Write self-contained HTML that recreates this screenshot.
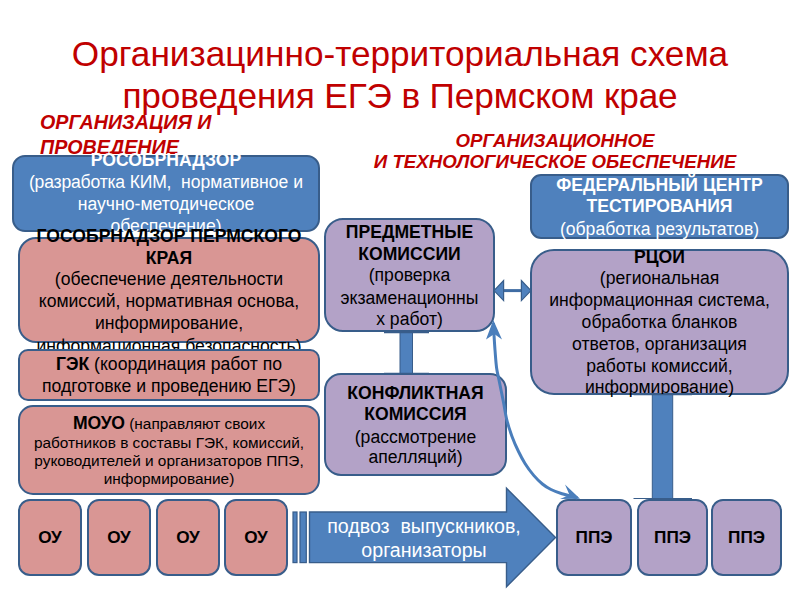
<!DOCTYPE html>
<html>
<head>
<meta charset="utf-8">
<style>
html,body{margin:0;padding:0;background:#fff;}
body{width:800px;height:600px;position:relative;overflow:hidden;font-family:"Liberation Sans",sans-serif;}
.abs{position:absolute;}
.box{position:absolute;box-sizing:border-box;border:2px solid #385D8A;text-align:center;white-space:nowrap;}
.blue{background:#4F81BD;color:#fff;}
.pink{background:#D99694;color:#000;}
.purp{background:#B3A2C7;color:#000;}
.ln{position:absolute;left:0;right:0;text-align:center;white-space:nowrap;}
b{font-weight:bold;}
.title{position:absolute;left:0;width:800px;text-align:center;color:#C00000;font-size:35.2px;line-height:43px;white-space:nowrap;}
.lab{position:absolute;color:#C00000;font-weight:bold;font-style:italic;font-size:16px;white-space:nowrap;}
svg{position:absolute;left:0;top:0;}
</style>
</head>
<body>

<div class="title" style="top:32px;">Организацинно-территориальная схема</div>
<div class="title" style="top:73.5px;letter-spacing:-0.13px;">проведения ЕГЭ в Пермском крае</div>

<div class="lab" style="left:40px;top:110.4px;line-height:24px;font-size:19.7px;">ОРГАНИЗАЦИЯ И</div>
<div class="lab" style="left:40px;top:134.5px;line-height:24px;font-size:19.7px;">ПРОВЕДЕНИЕ</div>
<div class="lab" style="left:355px;width:400px;text-align:center;top:129.5px;line-height:22px;font-size:18.7px;">ОРГАНИЗАЦИОННОЕ</div>
<div class="lab" style="left:355px;width:400px;text-align:center;top:150.5px;line-height:22px;font-size:18.7px;">И ТЕХНОЛОГИЧЕСКОЕ ОБЕСПЕЧЕНИЕ</div>

<!-- blue box 1 -->
<div class="box blue" style="left:12px;top:155px;width:308px;height:77px;border-radius:13px;font-size:17.6px;">
  <div class="ln" style="top:-8px;line-height:22px;"><b>РОСОБРНАДЗОР</b></div>
  <div class="ln" style="top:14px;line-height:22px;"><span style="letter-spacing:-0.2px">(разработка КИМ,</span>&nbsp; нормативное и</div>
  <div class="ln" style="top:36px;line-height:22px;">научно-методическое</div>
  <div class="ln" style="top:58px;line-height:22px;">обеспечение)</div>
</div>

<!-- pink box 2 -->
<div class="box pink" style="left:18px;top:237px;width:302px;height:106px;border-radius:18px;font-size:17.6px;">
  <div class="ln" style="top:-14px;line-height:22px;"><b>ГОСОБРНАДЗОР ПЕРМСКОГО</b></div>
  <div class="ln" style="top:8px;line-height:22px;"><b>КРАЯ</b></div>
  <div class="ln" style="top:29.4px;line-height:22px;">(обеспечение деятельности</div>
  <div class="ln" style="top:51.4px;line-height:22px;">комиссий, нормативная основа,</div>
  <div class="ln" style="top:72.6px;line-height:22px;">информирование,</div>
  <div class="ln" style="top:95.5px;line-height:22px;">информационная безопасность)</div>
</div>

<!-- GEK -->
<div class="box pink" style="left:18px;top:349px;width:302px;height:52px;border-radius:10px;font-size:17.6px;">
  <div class="ln" style="top:1.6px;line-height:22px;"><b>ГЭК</b> (координация работ по</div>
  <div class="ln" style="top:24.2px;line-height:22px;">подготовке и проведению ЕГЭ)</div>
</div>

<!-- MOUO -->
<div class="box pink" style="left:18px;top:405px;width:302px;height:90px;border-radius:15px;font-size:15.4px;">
  <div class="ln" style="top:5px;line-height:22px;"><b style="font-size:17.6px;">МОУО</b> (направляют своих</div>
  <div class="ln" style="top:27.2px;line-height:18px;">работников в составы ГЭК, комиссий,</div>
  <div class="ln" style="top:45.1px;line-height:18px;">руководителей и организаторов ППЭ,</div>
  <div class="ln" style="top:62.7px;line-height:18px;">информирование)</div>
</div>

<!-- OU -->
<div class="box pink" style="left:18px;top:499px;width:64px;height:77px;border-radius:12px;font-size:17.2px;font-weight:bold;line-height:73px;">ОУ</div>
<div class="box pink" style="left:87px;top:499px;width:64px;height:77px;border-radius:12px;font-size:17.2px;font-weight:bold;line-height:73px;">ОУ</div>
<div class="box pink" style="left:156px;top:499px;width:64px;height:77px;border-radius:12px;font-size:17.2px;font-weight:bold;line-height:73px;">ОУ</div>
<div class="box pink" style="left:224px;top:499px;width:64px;height:77px;border-radius:12px;font-size:17.2px;font-weight:bold;line-height:73px;">ОУ</div>

<!-- PREDMETNYE -->
<div class="box purp" style="left:324px;top:218px;width:171px;height:114px;border-radius:19px;font-size:17.6px;">
  <div class="ln" style="top:1px;line-height:22px;"><b>ПРЕДМЕТНЫЕ</b></div>
  <div class="ln" style="top:23px;line-height:22px;"><b>КОМИССИИ</b></div>
  <div class="ln" style="top:44px;line-height:22px;">(проверка</div>
  <div class="ln" style="top:67px;line-height:22px;">экзаменационны</div>
  <div class="ln" style="top:88px;line-height:22px;">х работ)</div>
</div>

<!-- KONFLIKTNAYA -->
<div class="box purp" style="left:324px;top:373px;width:183px;height:103px;border-radius:17px;font-size:17.6px;">
  <div class="ln" style="top:7px;line-height:22px;"><b>КОНФЛИКТНАЯ</b></div>
  <div class="ln" style="top:28px;line-height:22px;"><b>КОМИССИЯ</b></div>
  <div class="ln" style="top:50.6px;line-height:22px;">(рассмотрение</div>
  <div class="ln" style="top:71px;line-height:22px;">апелляций)</div>
</div>

<!-- FEDERAL -->
<div class="box blue" style="left:530px;top:174px;width:259px;height:65px;border-radius:11px;font-size:17.6px;">
  <div class="ln" style="top:-2.2px;line-height:22px;"><b>ФЕДЕРАЛЬНЫЙ ЦЕНТР</b></div>
  <div class="ln" style="top:19.2px;line-height:22px;"><b>ТЕСТИРОВАНИЯ</b></div>
  <div class="ln" style="top:41.8px;line-height:22px;">(обработка результатов)</div>
</div>

<!-- RCOI -->
<div class="box purp" style="left:530px;top:249px;width:259px;height:146px;border-radius:24px;font-size:17.6px;">
  <div class="ln" style="top:-5px;line-height:22px;"><b>РЦОИ</b></div>
  <div class="ln" style="top:16px;line-height:22px;">(региональная</div>
  <div class="ln" style="top:37.8px;line-height:22px;">информационная система,</div>
  <div class="ln" style="top:59.8px;line-height:22px;">обработка бланков</div>
  <div class="ln" style="top:81.5px;line-height:22px;">ответов, организация</div>
  <div class="ln" style="top:103.5px;line-height:22px;">работы комиссий,</div>
  <div class="ln" style="top:124.8px;line-height:22px;">информирование)</div>
</div>

<svg width="800" height="600" viewBox="0 0 800 600">
  <!-- big striped arrow -->
  <rect x="293" y="512" width="4" height="50.6" fill="#4F81BD" stroke="#385D8A" stroke-width="1.2"/>
  <rect x="300" y="512" width="6.3" height="50.6" fill="#4F81BD" stroke="#385D8A" stroke-width="1.2"/>
  <polygon points="309.5,512 506.5,512 506.5,488.2 555.5,537.5 506.5,586.8 506.5,562.6 309.5,562.6" fill="#4F81BD" stroke="#385D8A" stroke-width="1.4"/>
</svg>
<!-- PPE -->
<div class="box purp" style="left:556px;top:499px;width:76px;height:77px;border-radius:12px;font-size:17.2px;font-weight:bold;line-height:73px;">ППЭ</div>
<div class="box purp" style="left:637px;top:499px;width:71px;height:77px;border-radius:12px;font-size:17.2px;font-weight:bold;line-height:73px;">ППЭ</div>
<div class="box purp" style="left:711px;top:499px;width:71px;height:77px;border-radius:12px;font-size:17.2px;font-weight:bold;line-height:73px;">ППЭ</div>

<svg width="800" height="600" viewBox="0 0 800 600">
  <!-- connector predmetnye-konfliktnaya -->
  <rect x="400" y="332" width="12.5" height="42" fill="#4F81BD" stroke="#385D8A" stroke-width="1"/>
  <line x1="384" y1="332.6" x2="429" y2="332.6" stroke="#385D8A" stroke-width="1.2"/>
  <line x1="384" y1="373.4" x2="429" y2="373.4" stroke="#385D8A" stroke-width="1.2"/>
  <!-- connector RCOI-PPE -->
  <rect x="652.3" y="394.5" width="20.4" height="104" fill="#4F81BD" stroke="#385D8A" stroke-width="1"/>
  <line x1="633.5" y1="394.6" x2="692" y2="394.6" stroke="#385D8A" stroke-width="1.2"/>
  <line x1="633.5" y1="498.5" x2="692" y2="498.5" stroke="#385D8A" stroke-width="1.2"/>
  <!-- double arrow -->
  <line x1="500" y1="290.6" x2="526" y2="290.6" stroke="#3F6CA3" stroke-width="3"/>
  <polygon points="494,290.6 503.6,280.6 503.6,300.6" fill="#4F81BD" stroke="#385D8A" stroke-width="1.2"/>
  <polygon points="531,290.6 521.4,280.6 521.4,300.6" fill="#4F81BD" stroke="#385D8A" stroke-width="1.2"/>
  <!-- curved arrow -->
  <path d="M493.4,323.0 C493.4,324.2 493.4,325.5 493.7,330.0 C494.0,334.5 494.5,343.7 495.0,350.0 C495.5,356.3 495.9,363.0 496.6,368.0 C497.3,373.0 497.9,374.4 499.0,380.0 C500.1,385.6 502.1,395.2 503.4,401.7 C504.7,408.2 505.2,413.2 506.6,419.0 C508.0,424.8 510.0,431.0 512.0,436.4 C514.0,441.8 516.3,447.0 518.5,451.5 C520.7,456.0 522.5,459.5 525.0,463.5 C527.5,467.5 530.8,472.0 533.7,475.4 C536.6,478.8 539.5,481.6 542.4,484.0 C545.3,486.4 547.7,487.9 551.0,489.5 C554.3,491.1 557.6,492.4 562.0,493.8 C566.4,495.2 574.9,497.3 577.5,498.0" fill="none" stroke="#4A7EBB" stroke-width="3"/>
  <path d="M486,339.5 L493.3,320 L502,339.5 L494.3,334 Z" fill="#4A7EBB"/>
  <path d="M565,484.5 L580,498.7 L560,499 L569.5,495 Z" fill="#4A7EBB"/>
</svg>

<div class="abs arrt" style="left:309px;top:514px;width:230px;text-align:center;color:#fff;font-size:19.6px;line-height:24px;white-space:nowrap;">подвоз&nbsp; выпускников,</div>
<div class="abs arrt" style="left:309px;top:537.5px;width:230px;text-align:center;color:#fff;font-size:19.6px;line-height:24px;white-space:nowrap;">организаторы</div>

</body>
</html>
